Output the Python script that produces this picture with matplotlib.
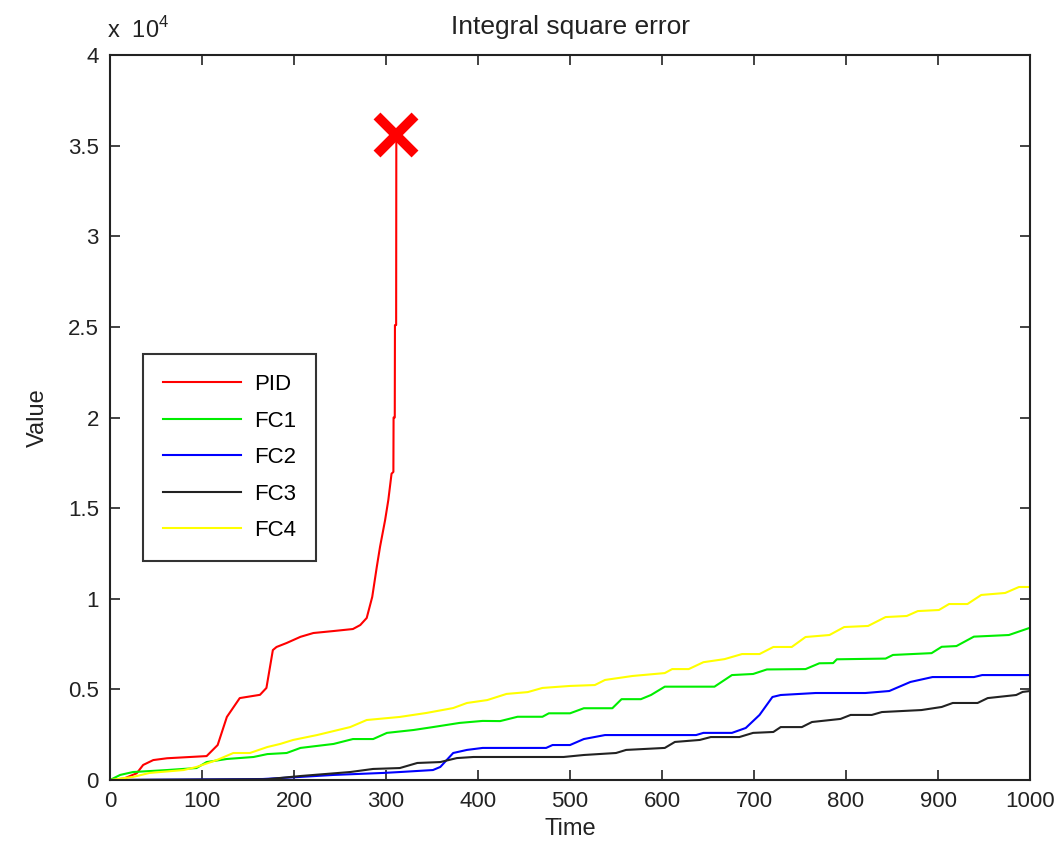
import matplotlib
matplotlib.use('Agg')
import matplotlib.pyplot as plt
import numpy as np

plt.rcParams['font.family'] = ['Liberation Sans', 'DejaVu Sans']
plt.rcParams['mathtext.fontset'] = 'custom'
plt.rcParams['mathtext.rm'] = 'Liberation Sans'

# values (time, integral square error)
pid_t = [0, 15, 29, 36, 47, 62, 105, 117, 127, 141, 163, 170, 177, 181, 192, 207, 221, 243,
         264, 272, 279, 285, 290, 293.5, 299, 302.5, 306, 308, 308.2, 309.5, 309.7, 311, 311.2]
pid_v = [0, 80, 370, 830, 1100, 1200, 1320, 1930, 3480, 4520, 4700, 5080, 7170, 7340, 7560, 7900,
         8110, 8220, 8330, 8550, 8940, 10100, 11770, 12870, 14340, 15450, 16900, 17000, 20000,
         20000, 25100, 25100, 35600]

fc1_t = [0, 11, 25, 62, 94, 105, 127, 156, 171, 192, 207, 243, 264, 286, 301, 330, 351, 380, 405,
         424, 443, 470, 477, 500, 515, 546, 556, 577, 588, 603, 657, 676, 699, 714, 756, 771, 786,
         790, 843, 851, 893, 904, 920, 939, 977, 1000]
fc1_v = [0, 280, 440, 550, 660, 990, 1160, 1270, 1430, 1490, 1770, 1990, 2260, 2260, 2600, 2760,
         2920, 3150, 3260, 3250, 3490, 3490, 3680, 3680, 3960, 3960, 4460, 4460, 4690, 5150, 5150,
         5790, 5850, 6100, 6120, 6440, 6450, 6660, 6700, 6900, 7000, 7350, 7390, 7910, 8000, 8400]

fc2_t = [0, 166, 207, 243, 297, 315, 351, 359, 373, 388, 405, 474, 481, 500, 515, 538, 637, 645,
         676, 691, 706, 720, 729, 767, 821, 847, 870, 894, 939, 948, 1000]
fc2_v = [0, 55, 170, 280, 390, 440, 550, 720, 1490, 1660, 1770, 1770, 1930, 1930, 2260, 2480, 2480,
         2600, 2600, 2870, 3590, 4580, 4690, 4800, 4800, 4910, 5410, 5680, 5680, 5790, 5790]

fc3_t = [0, 170, 207, 261, 286, 315, 334, 359, 377, 395, 493, 515, 550, 561, 603, 614, 641, 653,
         684, 699, 721, 729, 752, 763, 794, 805, 828, 839, 882, 904, 916, 943, 954, 985, 992, 1000]
fc3_v = [0, 40, 220, 440, 610, 660, 940, 990, 1210, 1270, 1270, 1380, 1490, 1660, 1770, 2100,
         2210, 2370, 2370, 2600, 2650, 2920, 2920, 3200, 3370, 3590, 3590, 3750, 3860, 4030, 4250,
         4250, 4520, 4690, 4860, 4910]

fc4_t = [0, 25, 43, 80, 94, 116, 134, 152, 171, 185, 199, 225, 261, 279, 315, 344, 373, 388, 410,
         431, 454, 470, 500, 527, 538, 568, 603, 611, 629, 645, 668, 687, 706, 721, 741, 756, 782,
         798, 824, 843, 866, 878, 901, 912, 932, 947, 973, 988, 1000]
fc4_v = [0, 170, 390, 550, 720, 1100, 1490, 1490, 1820, 1990, 2210, 2480, 2920, 3310, 3480, 3700,
         3970, 4250, 4410, 4750, 4850, 5080, 5190, 5240, 5520, 5740, 5900, 6120, 6120, 6500, 6670,
         6950, 6950, 7340, 7340, 7890, 8000, 8440, 8500, 8990, 9050, 9320, 9380, 9710, 9710,
         10210, 10320, 10650, 10650]

x_ticks = np.arange(0, 1001, 100)
y_ticks = np.arange(0, 40001, 5000)

fig = plt.figure(figsize=(10.61, 8.52), dpi=100)
ax = fig.add_axes([0.1037, 0.0845, 0.8671, 0.8509])

lw = 1.5
ax.plot(pid_t, pid_v, color='#ff0000', lw=lw, label='PID')
ax.plot(fc1_t, fc1_v, color='#00ee00', lw=lw, label='FC1')
ax.plot(fc2_t, fc2_v, color='#0000ff', lw=lw, label='FC2')
ax.plot(fc3_t, fc3_v, color='#222222', lw=lw, label='FC3')
ax.plot(fc4_t, fc4_v, color='#ffff00', lw=lw, label='FC4')
ax.plot([pid_t[-1]], [pid_v[-1]], marker='x', color='#ff0000', ms=28, mew=7,
        linestyle='none')

ax.set_xlim(0, 1000)
ax.set_ylim(0, 40000)
ax.set_xticks(x_ticks)
ax.set_yticks(y_ticks)
ax.set_yticklabels(['%g' % (v / 1e4) for v in y_ticks])
ax.tick_params(direction='in', top=True, right=True, length=7, width=1.2,
               labelsize=16, colors='#222222', pad=8)
for s in ax.spines.values():
    s.set_linewidth(1.5)
    s.set_color('#222222')

ax.set_title('Integral square error', fontsize=19, color='#222222', pad=15)
ax.set_xlabel('Time', fontsize=17, color='#222222', labelpad=4)
ax.set_ylabel('Value', fontsize=17, color='#222222', labelpad=14)
fig.text(0.101, 0.955, r'x  $10^{4}$', fontsize=17, color='#222222')

leg = ax.legend(loc='upper left', bbox_to_anchor=(0.1348, 0.5845),
                bbox_transform=fig.transFigure, borderaxespad=0, fontsize=16,
                handlelength=3.5, handletextpad=0.6, labelspacing=0.7, borderpad=0.9,
                fancybox=False, framealpha=1, edgecolor='#333333')
leg.get_frame().set_linewidth(1.5)

fig.savefig('out.png', dpi=100)
